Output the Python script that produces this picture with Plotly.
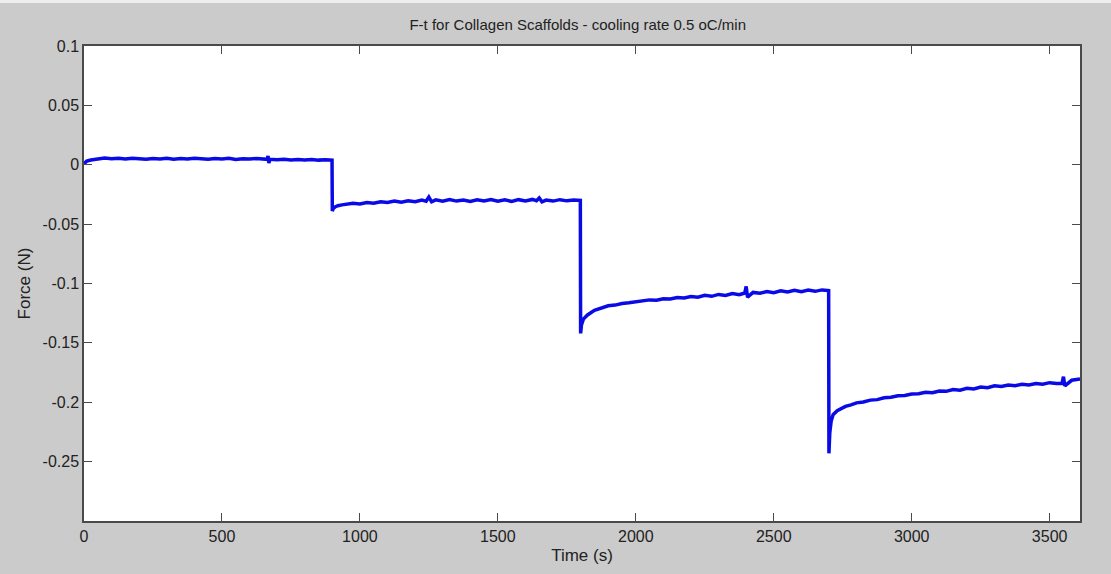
import plotly.graph_objects as go

# Time (s) and Force (N)
time_s = [0, 10, 25, 50, 75, 100, 125, 150, 175, 200, 225, 250, 275, 300, 325, 350, 375, 400, 425, 450,
          475, 500, 525, 550, 575, 600, 625, 650,
          664, 667, 670, 674, 700, 725, 750, 775, 800, 825, 850, 875, 899,
          900, 903, 910, 920, 935, 950, 975, 1000, 1025, 1050, 1075, 1100, 1125, 1150, 1175, 1200, 1225,
          1240, 1250, 1260, 1275, 1300, 1325, 1350, 1375,
          1400, 1425, 1450, 1475, 1500, 1525, 1550, 1575, 1600, 1625, 1640, 1650, 1660, 1675, 1700, 1725,
          1750, 1775, 1799,
          1800, 1803, 1810, 1825, 1850, 1875, 1900, 1925, 1950, 1975, 2000, 2025, 2050, 2075, 2100, 2125,
          2150, 2175, 2200, 2225, 2250, 2275, 2300, 2325, 2350, 2375, 2395, 2400, 2405, 2425, 2450, 2475,
          2500, 2525, 2550, 2575, 2600, 2625, 2650, 2675, 2699,
          2700, 2703, 2708, 2715, 2730, 2745, 2760, 2780, 2800, 2825, 2850, 2875, 2900, 2925, 2950, 2975,
          3000, 3025, 3050, 3075, 3100, 3125, 3150, 3175, 3200, 3225, 3250, 3275, 3300, 3325, 3350, 3375,
          3400, 3425, 3450, 3475, 3500, 3525, 3545, 3550, 3555, 3580, 3610]
force_n = [0.001, 0.003, 0.004, 0.005, 0.0056, 0.0050, 0.0054, 0.0048, 0.0055, 0.0051, 0.0046, 0.0053, 0.0049, 0.0055, 0.0047, 0.0052,
           0.0048, 0.0054, 0.0050, 0.0046, 0.0052, 0.0049, 0.0054, 0.0045, 0.0051, 0.0048, 0.0053, 0.0046,
           0.0046, 0.0075, 0.0015, 0.0046, 0.0042, 0.0047, 0.0041, 0.0045, 0.0040, 0.0044, 0.0039, 0.0043, 0.0039,
           -0.039, -0.037, -0.0355, -0.0345, -0.0338, -0.0333, -0.0325, -0.0330, -0.0318, -0.0324, -0.0312, -0.0318,
           -0.0305, -0.0316, -0.0303, -0.0312, -0.0298,
           -0.0308, -0.0272, -0.0312, -0.0296, -0.0308, -0.0294, -0.0306, -0.0297,
           -0.0310, -0.0295, -0.0305, -0.0293, -0.0307, -0.0296, -0.0309, -0.0294, -0.0305, -0.0292, -0.0303,
           -0.0280, -0.0312, -0.0297, -0.0306, -0.0294, -0.0304, -0.0296, -0.0300,
           -0.142, -0.135, -0.130, -0.1265, -0.1225, -0.1210, -0.1188, -0.1182, -0.1168, -0.1162, -0.1152,
           -0.1148, -0.1138, -0.1140, -0.1128, -0.1130, -0.1118, -0.1122, -0.1110, -0.1115, -0.1100, -0.1108,
           -0.1092, -0.1100, -0.1085, -0.1094, -0.1080, -0.1025, -0.1115, -0.1075, -0.1082, -0.1068,
           -0.1077, -0.1062, -0.1072, -0.1058, -0.1070, -0.1056, -0.1066, -0.1054, -0.1060,
           -0.243, -0.226, -0.216, -0.2105, -0.2072, -0.2055, -0.2035, -0.2022, -0.2005, -0.1998, -0.1982,
           -0.1978, -0.1962, -0.1958, -0.1945, -0.1943, -0.1930, -0.1928, -0.1916, -0.1920, -0.1905, -0.1908,
           -0.1893, -0.1898, -0.1882, -0.1888, -0.1872, -0.1878, -0.1862, -0.1868, -0.1855, -0.1860, -0.1848,
           -0.1855, -0.1842, -0.1848, -0.1835, -0.1842, -0.1840, -0.1785, -0.1862, -0.1815, -0.1805]

x_ticks = [0, 500, 1000, 1500, 2000, 2500, 3000, 3500]
x_tick_labels = ["0", "500", "1000", "1500", "2000", "2500", "3000", "3500"]
y_ticks = [0.1, 0.05, 0, -0.05, -0.1, -0.15, -0.2, -0.25]
y_tick_labels = ["0.1", "0.05", "0", "-0.05", "-0.1", "-0.15", "-0.2", "-0.25"]

FONT = "Liberation Sans, Arial, Helvetica"

fig = go.Figure()
fig.add_trace(go.Scatter(x=time_s, y=force_n, mode="lines",
                         line=dict(color="#0a0ae6", width=3.5), showlegend=False))

axis_common = dict(showgrid=False, zeroline=False, showline=True, linecolor="#4a4a4a",
                   linewidth=1.5, mirror="ticks", ticks="inside", ticklen=8,
                   tickcolor="#4a4a4a", tickwidth=1,
                   tickfont=dict(family=FONT, size=16, color="#222222"))

fig.update_layout(
    width=1111, height=574,
    margin=dict(l=84, r=31, t=46, b=53),
    paper_bgcolor="#cbcbcb", plot_bgcolor="#ffffff",
    title=dict(text="F-t for Collagen Scaffolds - cooling rate 0.5 oC/min",
               x=0.52, xanchor="center", y=1 - 25 / 574, yanchor="middle",
               font=dict(family=FONT, size=15, color="#222222")),
    xaxis=dict(range=[0, 3610], tickvals=x_ticks, ticktext=x_tick_labels,
               title=dict(text="Time (s)", standoff=5,
                          font=dict(family=FONT, size=17, color="#222222")),
               **axis_common),
    yaxis=dict(range=[-0.3, 0.1], tickvals=y_ticks, ticktext=y_tick_labels,
               title=dict(text="Force (N)", standoff=8,
                          font=dict(family=FONT, size=17, color="#222222")),
               **axis_common),
    shapes=[dict(type="rect", xref="paper", yref="paper", x0=-84 / 996, x1=1 + 31 / 996,
                 y0=1 + 43 / 475, y1=1 + 46 / 475, fillcolor="#eeeeee", line=dict(width=0),
                 layer="below")],
)

fig.write_html("out.html")
